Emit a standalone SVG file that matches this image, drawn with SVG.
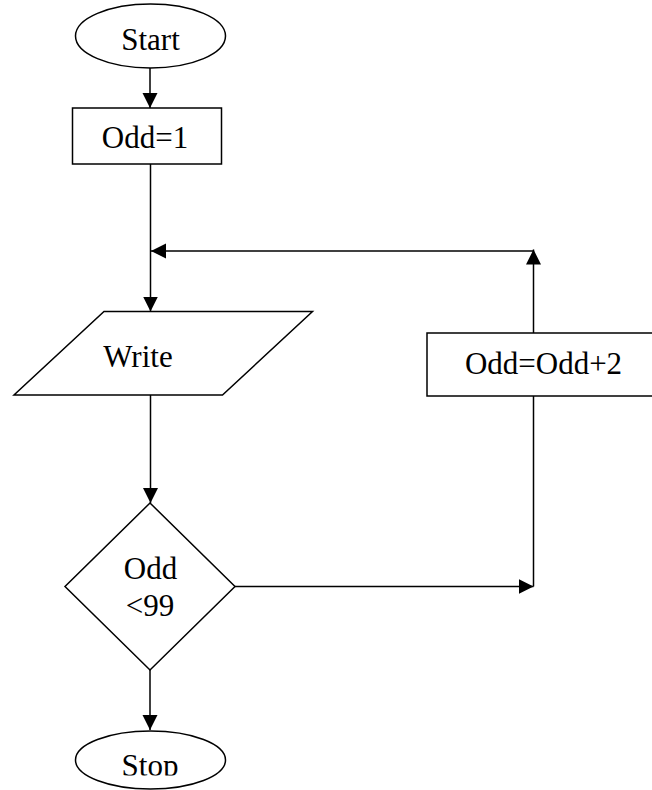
<svg xmlns="http://www.w3.org/2000/svg" width="652" height="790" viewBox="0 0 652 790">
  <defs>
    <style>
      .shape { fill: #ffffff; stroke: #000000; stroke-width: 1.5; }
      .conn { fill: none; stroke: #000000; stroke-width: 1.5; }
      .label { font-family: "Liberation Serif", "Times New Roman", serif; font-size: 31px; fill: #000000; text-anchor: middle; }
    </style>
    <marker id="arrow" markerUnits="userSpaceOnUse" markerWidth="16" markerHeight="16" viewBox="0 0 16 16" refX="15" refY="8" orient="auto">
      <path d="M0,0.5 L15,8 L0,15.5 Z" fill="#000000"/>
    </marker>
    <clipPath id="stopClip">
      <rect x="0" y="700" width="652" height="75.5"/>
    </clipPath>
  </defs>
  <rect width="652" height="790" fill="#ffffff"/>

  <g id="connectors">
    <path class="conn" d="M150,68 V108" marker-end="url(#arrow)"/>
    <path class="conn" d="M150.5,164 V311.5" marker-end="url(#arrow)"/>
    <path class="conn" d="M150.5,395 V503" marker-end="url(#arrow)"/>
    <path class="conn" d="M150,670 V730" marker-end="url(#arrow)"/>
    <path class="conn" d="M235,586.5 H533.5" marker-end="url(#arrow)"/>
    <path class="conn" d="M533.5,586.5 V396"/>
    <path class="conn" d="M533.5,333 V249.5" marker-end="url(#arrow)"/>
    <path class="conn" d="M533.5,251 H151" marker-end="url(#arrow)"/>
  </g>

  <g id="start">
    <ellipse class="shape" cx="150.5" cy="36" rx="75" ry="32"/>
    <text class="label" x="150.5" y="50">Start</text>
  </g>

  <g id="init">
    <rect class="shape" x="72.5" y="108" width="149" height="56"/>
    <text class="label" x="145" y="147.5">Odd=1</text>
  </g>

  <g id="write">
    <polygon class="shape" points="104,311.5 312.5,311.5 222.5,395 14,395"/>
    <text class="label" x="138" y="367">Write</text>
  </g>

  <g id="increment">
    <rect class="shape" x="427" y="333" width="240" height="63"/>
    <text class="label" x="543.5" y="374">Odd=Odd+2</text>
  </g>

  <g id="decision">
    <polygon class="shape" points="150,503 235,586.5 150,670 65,586.5"/>
    <text class="label" x="150.5" y="579">Odd</text>
    <text class="label" x="150" y="616">&lt;99</text>
  </g>

  <g id="stop">
    <ellipse class="shape" cx="150.5" cy="760" rx="75" ry="29"/>
    <text class="label" x="150" y="775.5" clip-path="url(#stopClip)">Stop</text>
  </g>
</svg>
